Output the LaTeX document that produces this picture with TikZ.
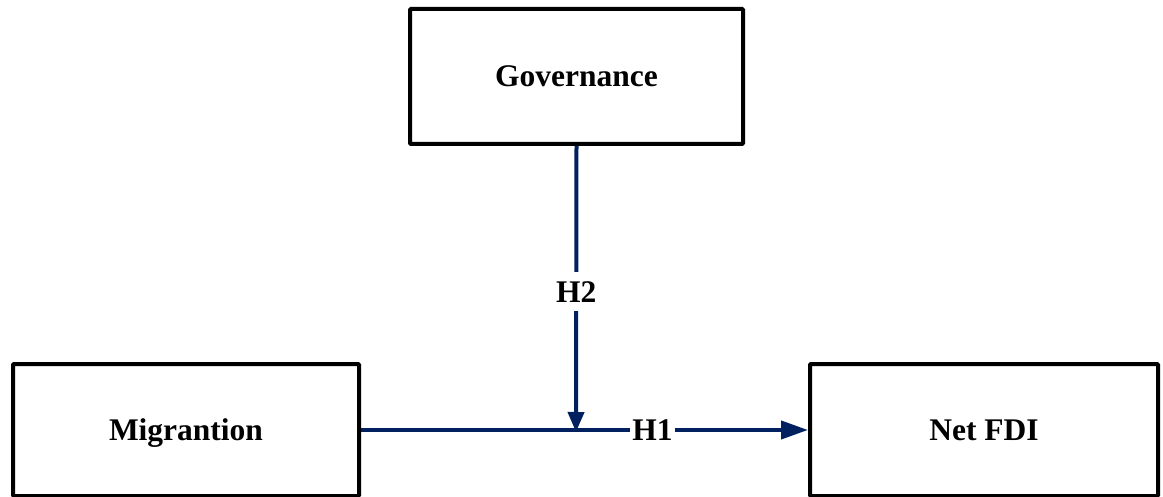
\documentclass[tikz,border=0pt]{standalone}
\usepackage{fontspec}
\setmainfont{Liberation Serif}
\usetikzlibrary{arrows.meta}
\definecolor{navy}{HTML}{002060}
\begin{document}
\begin{tikzpicture}[x=1pt,y=-1pt,
  box/.style={draw=black,line width=4pt,rounded corners=1pt,fill=white,inner sep=0pt,
    text depth=0pt,font=\fontsize{31.5}{36}\selectfont\bfseries},
  conn/.style={draw=navy,line width=4pt},
  lab/.style={fill=white,inner xsep=2pt,inner ysep=9pt,text=black,
    font=\fontsize{31.5}{36}\selectfont\bfseries}]
\useasboundingbox (0,0) rectangle (1163,497);
\node[box,minimum width=333pt,minimum height=135pt] (gov) at (576.5,76.5) {Governance};
\node[box,minimum width=346pt,minimum height=132pt] (mig) at (186,430) {Migrantion};
\node[box,minimum width=348pt,minimum height=132pt] (fdi) at (984,430) {Net FDI};
\coordinate (j) at (576,430);
\draw[conn,-{Triangle[length=27pt,width=18pt]}] (mig.east) -- node[lab,pos=0.652]{H1} (fdi.west);
\draw[conn,-{Triangle[length=20pt,width=16pt]}] (gov.south) -- node[lab,pos=0.51]{H2} ([yshift=-2pt]j);
\end{tikzpicture}
\end{document}
